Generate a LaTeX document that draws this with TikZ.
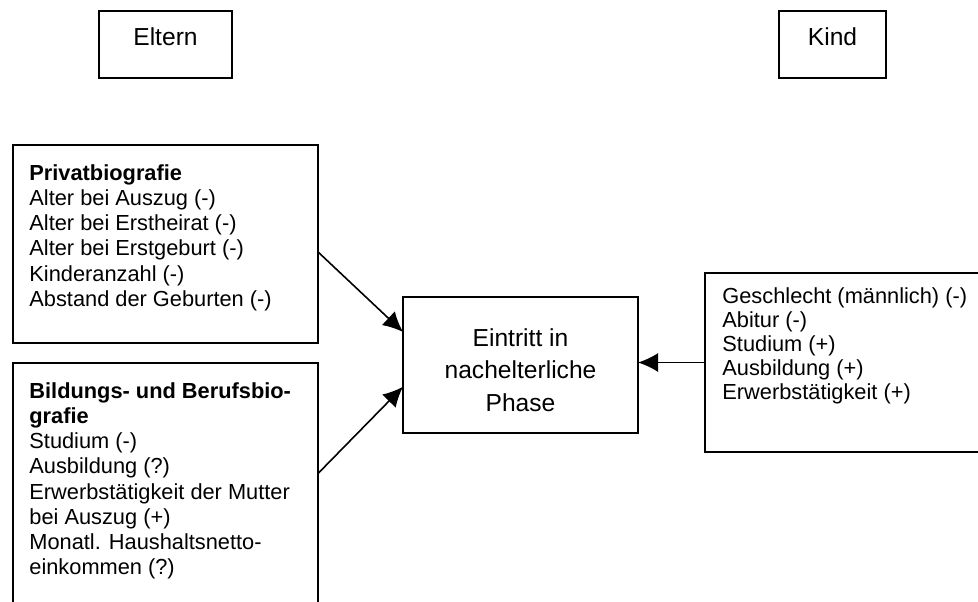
\documentclass[tikz,border=0pt]{standalone}
\usepackage{fontspec}
\setmainfont{Liberation Sans}
\usetikzlibrary{arrows.meta,calc}

\begin{document}
\begin{tikzpicture}[x=0.5pt,y=-0.5pt,
  box/.style={draw, line width=1.1pt, inner sep=0pt, outer sep=0pt},
  big/.style={font=\fontsize{12.3}{16.3}\selectfont, inner sep=0pt},
  list/.style={font=\fontsize{10.9}{12.6}\selectfont, align=left, anchor=north west, inner sep=0pt},
  arr/.style={line width=0.8pt, -{Latex[length=10pt,width=9.5pt]}}]
\clip (0,0) rectangle (978,601);

\node[box, minimum width=66.5pt, minimum height=33.5pt] (eltern) at (165.5,44.5) {};
\node[box, minimum width=53.5pt, minimum height=33.5pt] (kind) at (832.5,44.5) {};
\node[big] (elterntext) at (165.5,37) {Eltern};
\node[big] (kindtext) at (832.5,37) {Kind};

\node[box, minimum width=152.5pt, minimum height=99pt] (privat) at (165.5,244) {};
\node[box, minimum width=152.5pt, minimum height=128.5pt] (bildung) at (165.5,491.5) {};
\node[box, minimum width=117.5pt, minimum height=68pt] (phase) at (520.5,365) {};
\node[box, minimum width=142.5pt, minimum height=89.5pt] (kindmerk) at (847.5,362.5) {};

\node[list] (privattext) at (29,164) {\textbf{Privatbiografie}\\
Alter bei Auszug (-)\\
Alter bei Erstheirat (-)\\
Alter bei Erstgeburt (-)\\
Kinderanzahl (-)\\
Abstand der Geburten (-)};
\node[list] (bildungtext) at (29,382) {\textbf{Bildungs- und Berufsbio-}\\
\textbf{grafie}\\
Studium (-)\\
Ausbildung (?)\\
Erwerbstätigkeit der Mutter\\
bei Auszug (+)\\
Monatl. Haushaltsnetto-\\
einkommen (?)};
\node[big, align=center] (phasetext) at (520.5,370) {Eintritt in\\ nachelterliche\\ Phase};
\node[list, font=\fontsize{10.9}{12}\selectfont] (kindmerktext) at (722,287) {Geschlecht (männlich) (-)\\
Abitur (-)\\
Studium (+)\\
Ausbildung (+)\\
Erwerbstätigkeit (+)};

\draw[arr] ($(privat.north east)!0.54!(privat.south east)$) -- ($(phase.north west)!0.257!(phase.south west)$);
\draw[arr] ($(bildung.north east)!0.43!(bildung.south east)$) -- ($(phase.north west)!0.66!(phase.south west)$);
\draw[arr] (kindmerk.west) -- (kindmerk.west -| phase.east);
\end{tikzpicture}
\end{document}
